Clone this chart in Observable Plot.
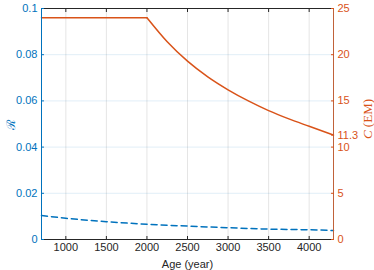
<!DOCTYPE html>
<html>
<head>
<meta charset="utf-8">
<script src="https://cdn.jsdelivr.net/npm/d3@7"></script>
<script src="https://cdn.jsdelivr.net/npm/@observablehq/plot@0.6"></script>
<style>
  html, body { margin: 0; padding: 0; background: #fff; }
  #chart { width: 374px; height: 270px; }
</style>
</head>
<body>
<div id="chart"></div>
<script>
// Blue dashed series: R vs age
const agesR = [700, 1000, 1500, 2000, 2500, 3000, 3500, 4000, 4300];
const valuesR = [0.0104, 0.0092, 0.0077, 0.0066, 0.0058, 0.0051, 0.0045, 0.0042, 0.0039];
// Orange series: C (EM) vs age — constant phase, then decay phase
const agesCflat = [700, 2000];
const valuesCflat = [24, 24];
const agesCdecay = [2000, 2250, 2500, 2750, 3000, 3250, 3500, 3750, 4000, 4300];
const valuesCdecay = [24, 21.4, 19.3, 17.6, 16.2, 15.0, 13.95, 13.05, 12.25, 11.3];
// Tick values
const xTicks = [1000, 1500, 2000, 2500, 3000, 3500, 4000];
const leftTicks = [0, 0.02, 0.04, 0.06, 0.08, 0.1];
const rightTicks = [0, 5, 10, 11.3, 15, 20, 25];

const BLUE = "#0072BD", ORANGE = "#D95319", DARK = "#262626";
const ratio = 0.1 / 25; // right scale maps 0..25 onto left 0..0.1

const dataR = agesR.map((a, i) => ({age: a, v: valuesR[i]}));
const dataCflat = agesCflat.map((a, i) => ({age: a, v: valuesCflat[i] * ratio}));
const dataCdecay = agesCdecay.map((a, i) => ({age: a, v: valuesCdecay[i] * ratio}));

const chart = Plot.plot({
  width: 374, height: 270,
  marginLeft: 41, marginRight: 41, marginTop: 8, marginBottom: 31,
  style: {fontFamily: "'Liberation Sans', Arial, sans-serif", fontSize: "11px", background: "white"},
  x: {domain: [700, 4300]},
  y: {domain: [0, 0.1]},
  marks: [
    Plot.gridX(xTicks, {stroke: DARK, strokeOpacity: 0.12}),
    Plot.gridY(leftTicks.slice(1, -1), {stroke: BLUE, strokeOpacity: 0.12}),
    Plot.line(dataCflat, {x: "age", y: "v", stroke: ORANGE, strokeWidth: 1.5}),
    Plot.line(dataCdecay, {x: "age", y: "v", stroke: ORANGE, strokeWidth: 1.5, curve: "monotone-x"}),
    Plot.line(dataR, {x: "age", y: "v", stroke: BLUE, strokeWidth: 1.5, strokeDasharray: "6,4", curve: "monotone-x"}),
    Plot.ruleY([0.1], {stroke: DARK, strokeWidth: 1}),
    Plot.ruleY([0], {stroke: DARK, strokeWidth: 1}),
    Plot.ruleX([700], {stroke: BLUE, strokeWidth: 1}),
    Plot.ruleX([4300], {stroke: "#C0623A", strokeWidth: 1}),
    Plot.axisX(xTicks, {anchor: "bottom", tickSize: -3, tickPadding: 7, color: DARK, fill: DARK,
      tickFormat: d => String(d), label: "Age (year)", labelAnchor: "center", labelArrow: "none", labelOffset: 28}),
    Plot.axisX(xTicks, {anchor: "top", tickSize: -3, tickFormat: () => "", label: null, color: DARK}),
    Plot.axisY(leftTicks, {anchor: "left", tickSize: -3, tickPadding: 7, color: BLUE, fill: BLUE,
      tickFormat: d => String(+d.toFixed(2)), label: null}),
    Plot.axisY(rightTicks.map(t => t * ratio), {anchor: "right", tickSize: -3, tickPadding: 7, color: ORANGE, fill: ORANGE,
      tickFormat: d => String(+(d / ratio).toFixed(1)), label: null})
  ]
});

document.getElementById("chart").appendChild(chart);

// axis titles
const svg = d3.select(chart);
svg.append("text")
  .attr("transform", "translate(15,125) rotate(-90)")
  .attr("text-anchor", "middle")
  .attr("fill", BLUE)
  .attr("font-family", "'DejaVu Serif', serif")
  .attr("font-size", 12)
  .text("ℛ");
const t = svg.append("text")
  .attr("transform", "translate(372,119) rotate(-90)")
  .attr("text-anchor", "middle")
  .attr("fill", ORANGE)
  .attr("font-family", "'Liberation Serif', 'Times New Roman', serif")
  .attr("font-size", 13);
t.append("tspan").attr("font-style", "italic").text("C");
t.append("tspan").text(" (EM)");
</script>
</body>
</html>
